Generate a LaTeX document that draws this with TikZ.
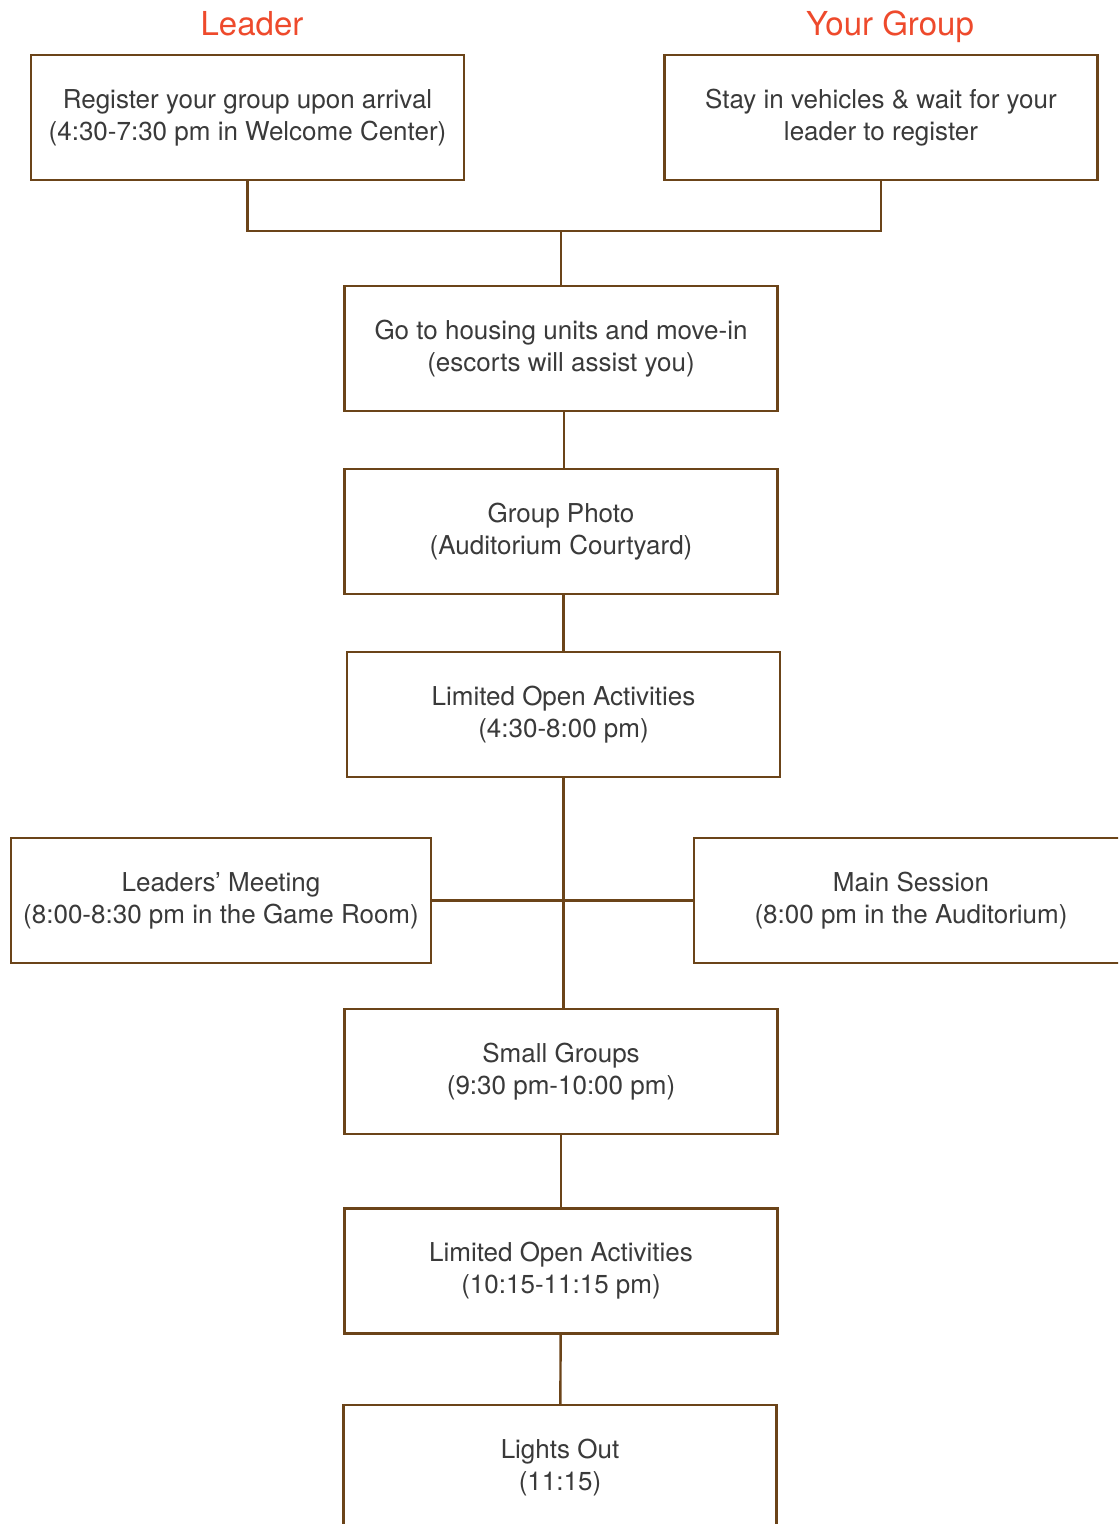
\documentclass[tikz,border=0pt]{standalone}
\usepackage{fontspec}
\setmainfont{TeX Gyre Heros}
\definecolor{campBrown}{HTML}{6B4419}
\definecolor{campRed}{HTML}{EE4A2C}
\definecolor{campText}{HTML}{3A3A3A}
\usetikzlibrary{positioning}

\tikzset{
  stepbox/.style={draw=campBrown, line width=1.2pt, fill=white, text=campText,
    minimum width=216.5pt, minimum height=62.5pt, inner sep=0pt, align=center,
    font=\fontsize{13}{16}\selectfont},
  headline/.style={text=campRed, anchor=base, inner sep=0pt, font=\fontsize{16.5}{20}\selectfont},
  link/.style={draw=campBrown, line width=1.2pt}
}

\begin{document}
\begin{tikzpicture}[x=0.5pt, y=-0.5pt]
  \useasboundingbox (0,0) rectangle (1118,1524);
  \clip (0,0) rectangle (1118,1524);
  % column headings
  \node[headline] (leaderhead) at (252,36) {Leader};
  \node[headline] (grouphead) at (890,36) {Your Group};
  % arrival
  \node[stepbox] (register) at (247.5,117.5) {Register your group upon arrival\\(4:30-7:30 pm in Welcome Center)};
  \node[stepbox] (stay) at (881,117.5) {Stay in vehicles \& wait for your\\leader to register};
  \coordinate (merge) at (561,231);
  % evening steps
  \node[stepbox] (housing) at (561,348.5) {Go to housing units and move-in\\(escorts will assist you)};
  \node[stepbox] (photo) at (561,531.5) {Group Photo\\(Auditorium Courtyard)};
  \node[stepbox] (openearly) at (563.5,714.5) {Limited Open Activities\\(4:30-8:00 pm)};
  \node[stepbox, minimum width=210pt] (meeting) at (221,900.5) {Leaders’ Meeting\\(8:00-8:30 pm in the Game Room)};
  \node[stepbox, minimum width=217pt] (session) at (911,900.5) {Main Session\\(8:00 pm in the Auditorium)};
  \node[stepbox] (smallgroups) at (561,1071.5) {Small Groups\\(9:30 pm-10:00 pm)};
  \node[stepbox] (openlate) at (561,1271) {Limited Open Activities\\(10:15-11:15 pm)};
  \node[stepbox] (lights) at (560,1467.5) {Lights Out\\(11:15)};
  % connectors
  \draw[link] (register.south) |- (merge) -| (stay.south);
  \draw[link] (merge) -- (housing.north);
  \draw[link] ([xshift=1.5pt]housing.south) -- ([xshift=1.5pt]photo.north);
  \draw[link] (photo.south -| openearly.north) -- (openearly.north);
  \draw[link] (openearly.south) -- (openearly.south |- smallgroups.north);
  \draw[link] (meeting.east) -- (session.west);
  \draw[link] (smallgroups) -- (openlate);
  \draw[link] (openlate) -- (lights);
\end{tikzpicture}
\end{document}
